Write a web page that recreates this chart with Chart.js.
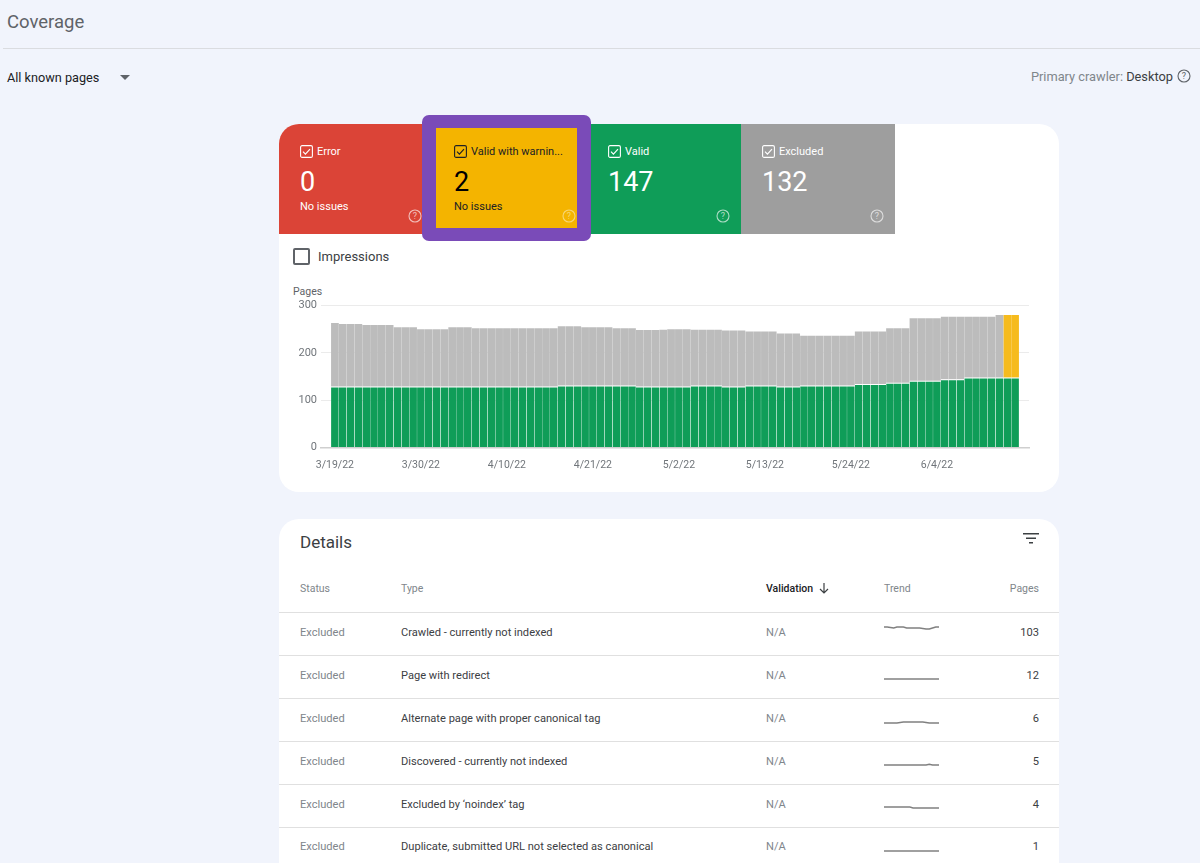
<!DOCTYPE html>
<html><head><meta charset="utf-8"><title>Coverage</title>
<script src="https://cdn.jsdelivr.net/npm/chart.js@4"></script>
<style>
html,body{margin:0;padding:0;width:1200px;height:863px;overflow:hidden;background:#f1f4fc;font-family:Roboto,sans-serif;color:#3c4043}
.a{position:absolute;white-space:nowrap}
.mid{transform:translateY(-50%)}
.card{position:absolute;background:#fff}
.cb{position:absolute;width:13px;height:13px}
.help{position:absolute;width:14px;height:14px}
svg{display:block}
canvas{position:absolute;display:block}
</style></head><body>
<div class="a mid" style="left:7px;top:22px;font-size:18.5px;color:#5f6368">Coverage</div>
<div class="a" style="left:3px;top:48px;width:1197px;height:1px;background:#dadce0"></div>
<div class="a mid" style="left:7px;top:77px;font-size:12.7px;color:#202124">All known pages</div>
<div class="a" style="left:120px;top:75px;width:0;height:0;border-left:5.5px solid transparent;border-right:5.5px solid transparent;border-top:5px solid #5f6368"></div>
<div class="a mid" style="right:27px;top:76px;font-size:12.8px;color:#80868b">Primary crawler: <span style="color:#3c4043">Desktop</span></div>
<div id="crawlerHelp" class="a" style="left:1177px;top:69px;width:14px;height:14px"></div>

<div class="card" style="left:279px;top:124px;width:780px;height:368px;border-radius:20px;overflow:hidden" id="mainCard"></div>
<div id="tiles"></div>
<div class="a" style="left:293px;top:248px;width:13px;height:13px;border:2px solid #5f6368;border-radius:2px"></div>
<div class="a mid" style="left:318px;top:256px;font-size:13px;color:#3c4043">Impressions</div>
<div class="a mid" style="left:293px;top:291px;font-size:10.5px;color:#5f6368">Pages</div>
<canvas id="cov" width="780" height="200" style="left:279px;top:280px;width:780px;height:200px"></canvas>

<div class="card" style="left:279px;top:519px;width:780px;height:360px;border-radius:20px 20px 0 0"></div>
<div class="a mid" style="left:300px;top:542px;font-size:17px;color:#3c4043">Details</div>
<svg class="a" style="left:1023px;top:533px" width="16" height="11"><path d="M0 .75h16M3 5.25h10M6 9.75h4" stroke="#3c4043" stroke-width="1.6" fill="none"/></svg>
<div id="table"></div>

<script>
// ---- Data ----
const pagesTitle = "Pages";
const tickIndexes = [0, 11, 22, 33, 44, 55, 66, 77];
const tickLabels = ["3/19/22", "3/30/22", "4/10/22", "4/21/22", "5/2/22", "5/13/22", "5/24/22", "6/4/22"];
const yTicks = [0, 100, 200, 300];
const validPages = [129,129,129,129,129,129,129,129,129,129,129,129,129,129,129,129,129,129,129,129,129,129,129,129,129,129,129,129,129,
  131,131,131,131,131,131,131,131,131,131,
  129,129,129,129,129,129,129,131,131,131,131,129,129,129,131,131,131,131,129,129,129,
  131,131,131,131,131,131,131,134,134,134,134,137,137,137,141,141,141,141,144,144,144,148,148,148,148,148,148,148];
const excludedPages = [134,132,132,132,130,130,130,130,125,125,125,121,121,121,121,125,125,125,
  123,123,123,123,123,123,123,123,123,123,123,
  125,125,125,123,123,123,123,121,121,121,119,119,119,120,121,121,121,
  118,118,118,118,118,118,118,114,114,114,114,112,112,112,
  105,105,105,105,105,105,105,111,111,111,111,115,115,115,132,132,132,132,132,132,132,128,128,128,128,132,0,0];
const warningPages = [0,0,0,0,0,0,0,0,0,0,0,0,0,0,0,0,0,0,0,0,0,0,0,0,0,0,0,0,0,0,0,0,0,0,0,0,0,0,0,0,0,0,0,0,
  0,0,0,0,0,0,0,0,0,0,0,0,0,0,0,0,0,0,0,0,0,0,0,0,0,0,0,0,0,0,0,0,0,0,0,0,0,0,0,0,0,0,132,132];

const tileNames = ["Error", "Valid with warnin...", "Valid", "Excluded"];
const tileCounts = ["0", "2", "147", "132"];
const tileNotes = ["No issues", "No issues", "", ""];

const tableHeaders = ["Status", "Type", "Validation", "Trend", "Pages"];
const rowStatus = ["Excluded","Excluded","Excluded","Excluded","Excluded","Excluded"];
const rowTypes = ["Crawled - currently not indexed","Page with redirect","Alternate page with proper canonical tag","Discovered - currently not indexed","Excluded by ‘noindex’ tag","Duplicate, submitted URL not selected as canonical"];
const rowValidation = ["N/A","N/A","N/A","N/A","N/A","N/A"];
const rowPages = ["103","12","6","5","4","1"];
const trend1 = [104,104,103.5,103,104,104,104,103,103,103,103,103,102.5,102,102,103,104,104];
const trend2 = [12,12,12,12,12,12,12,12,12,12,12,12,12,12,12,12,12,12];
const trend3 = [6,6,6,6,6,6.5,7,7,7,7,7,7,7,6.5,6,6,6,6];
const trend4 = [5,5,5,5,5,5,5,5,5,5,5,5,5,5,5.8,5,5,5];
const trend5 = [5,5,5,5,5,5,5,5,5,4,4,4,4,4,4,4,4,4];
const trend6 = [1,1,1,1,1,1,1,1,1,1,1,1,1,1,1,1,1,1];
const trends = [trend1,trend2,trend3,trend4,trend5,trend6];

// ---- Styling & layout (separate from data) ----
const cols = {red:"#db4437", yellow:"#f4b400", green:"#0f9d58", grey:"#9e9e9e", purple:"#7a4bb8"};
const helpSvg = (c) => `<svg width="14" height="14" viewBox="0 0 14 14"><circle cx="7" cy="7" r="6" fill="none" stroke="${c}" stroke-width="1.1"/><text x="7" y="10.2" text-anchor="middle" font-size="9" font-family="Roboto" fill="${c}">?</text></svg>`;
const checkSvg = (c) => `<svg width="13" height="13" viewBox="0 0 13 13"><rect x=".6" y=".6" width="11.8" height="11.8" rx="1.5" fill="none" stroke="${c}" stroke-width="1.1"/><path d="M3 6.7l2.4 2.4L10 4.2" fill="none" stroke="${c}" stroke-width="1.2"/></svg>`;
document.getElementById("crawlerHelp").innerHTML = helpSvg("#5f6368");

const tiles = [
 {l:279,w:157,bg:cols.red,fg:"#fff",tx:300,hx:408,radius:"20px 0 0 0"},
 {l:436,w:141,bg:cols.yellow,fg:"#202124",tx:454,hx:562,radius:"0",top:128,h:100,hf:"#f7d675"},
 {l:591,w:150,bg:cols.green,fg:"#fff",tx:608,hx:716,radius:"0"},
 {l:741,w:154,bg:cols.grey,fg:"#fff",tx:762,hx:870,radius:"0"}
];
let th = "";
const order = [0,2,3,1];
order.forEach(i=>{
  const t = tiles[i], top = t.top||124, h = t.h||110, hc = t.hf||"rgba(255,255,255,.65)";
  if(i===1) th += `<div class="a" style="left:422px;top:115px;width:169px;height:126px;background:${cols.purple};border-radius:7px"></div>`;
  th += `<div class="a" style="left:${t.l}px;top:${top}px;width:${t.w}px;height:${h}px;background:${t.bg};border-radius:${t.radius}"></div>`;
  th += `<div class="cb" style="left:${t.tx}px;top:145px">${checkSvg(t.fg)}</div>`;
  th += `<div class="a mid" style="left:${t.tx+17}px;top:151px;font-size:11px;color:${t.fg}">${tileNames[i]}</div>`;
  th += `<div class="a mid" style="left:${t.tx}px;top:182px;font-size:27px;color:${t.fg==='#fff'?'#fff':'#000'}">${tileCounts[i]}</div>`;
  if(tileNotes[i]) th += `<div class="a mid" style="left:${t.tx}px;top:206px;font-size:11px;color:${t.fg}">${tileNotes[i]}</div>`;
  th += `<div class="help" style="left:${t.hx}px;top:209px">${helpSvg(hc)}</div>`;
});
document.getElementById("tiles").innerHTML = th;

// table
const colX = [300,401,766,884];
let tb = "";
tableHeaders.forEach((h,i)=>{
  const bold = h==="Validation";
  const pos = i<4 ? `left:${colX[i]}px` : `right:${1200-1039}px`;
  tb += `<div class="a mid" style="${pos};top:588px;font-size:10.5px;font-weight:${bold?500:400};color:${bold?'#202124':'#80868b'}">${h}</div>`;
});
tb += `<svg class="a" style="left:819px;top:583px" width="10" height="11"><path d="M5 0v9.5M1 6l4 4 4-4" fill="none" stroke="#3c4043" stroke-width="1.2"/></svg>`;
const lineY = [612,655,698,741,784,827];
const textY = [632,675,718,761,804,846];
const sparkTop = [620.3,670.7,714.7,757.3,799,843];
const sparkRange = [[95,111],[4,20],[-2,14],[-3,13],[-3,13],[-7,9]];
lineY.forEach((y,r)=>{
  tb += `<div class="a" style="left:279px;width:780px;top:${y}px;height:1px;background:#e0e0e0"></div>`;
  tb += `<div class="a mid" style="left:300px;top:${textY[r]}px;font-size:11.1px;color:#80868b">${rowStatus[r]}</div>`;
  tb += `<div class="a mid" style="left:401px;top:${textY[r]}px;font-size:11.1px;color:#3c4043">${rowTypes[r]}</div>`;
  tb += `<div class="a mid" style="left:766px;top:${textY[r]}px;font-size:11.1px;color:#80868b">${rowValidation[r]}</div>`;
  tb += `<div class="a mid" style="right:161px;top:${textY[r]}px;font-size:11.1px;color:#3c4043">${rowPages[r]}</div>`;
  tb += `<canvas id="sp${r}" width="55" height="16" style="left:883.5px;top:${sparkTop[r]}px;width:55px;height:16px"></canvas>`;
});
document.getElementById("table").innerHTML = tb;

// ---- Charts ----
const pt = a => a.map((v,i)=>({x:i,y:v}));
const common = {barPercentage:.985,categoryPercentage:1,borderSkipped:false,stack:"s"};
new Chart(document.getElementById("cov"),{
  type:"bar",
  data:{datasets:[
    {label:"Valid",data:pt(validPages),backgroundColor:cols.green,borderColor:"rgba(255,255,255,.75)",borderWidth:{top:1,left:0,right:0,bottom:0},...common},
    {label:"Excluded",data:pt(excludedPages),backgroundColor:"#bcbcbc",...common},
    {label:"Valid with warnings",data:pt(warningPages),backgroundColor:"#f6bb1d",...common}
  ]},
  options:{
    responsive:false,animation:false,
    layout:{padding:{top:25.5,right:30,left:0,bottom:0}},
    plugins:{legend:{display:false},tooltip:{enabled:false}},
    scales:{
      x:{type:"linear",offset:false,stacked:true,min:-1.78,max:88.78,
        afterBuildTicks:s=>{s.ticks=tickIndexes.map(v=>({value:v}));},
        afterFit:s=>{s.height=32.5;},
        grid:{display:false,drawTicks:false},
        border:{color:"#cfcfcf",width:1.5},
        ticks:{autoSkip:false,maxRotation:0,minRotation:0,padding:12,color:"#70757a",font:{family:"Roboto",size:10.5},
          callback:v=>tickLabels[tickIndexes.indexOf(v)]}
      },
      y:{stacked:true,min:0,max:300,
        afterBuildTicks:s=>{s.ticks=yTicks.map(v=>({value:v}));},
        afterFit:s=>{s.width=42;},
        grid:{color:"#ebebeb",lineWidth:1,drawTicks:false},
        border:{display:false},
        ticks:{padding:4,color:"#70757a",font:{family:"Roboto",size:11}}
      }
    }
  }
});
trends.forEach((d,r)=>{
  new Chart(document.getElementById("sp"+r),{
    type:"line",
    data:{labels:d.map((_,i)=>i),datasets:[{data:d,borderColor:"#808080",borderWidth:r===1||r===5?1.6:1.4,pointRadius:0,tension:0}]},
    options:{responsive:false,animation:false,
      layout:{padding:0},
      plugins:{legend:{display:false},tooltip:{enabled:false}},
      scales:{x:{display:false},y:{display:false,min:sparkRange[r][0],max:sparkRange[r][1]}}}
  });
});
</script>
</body></html>
